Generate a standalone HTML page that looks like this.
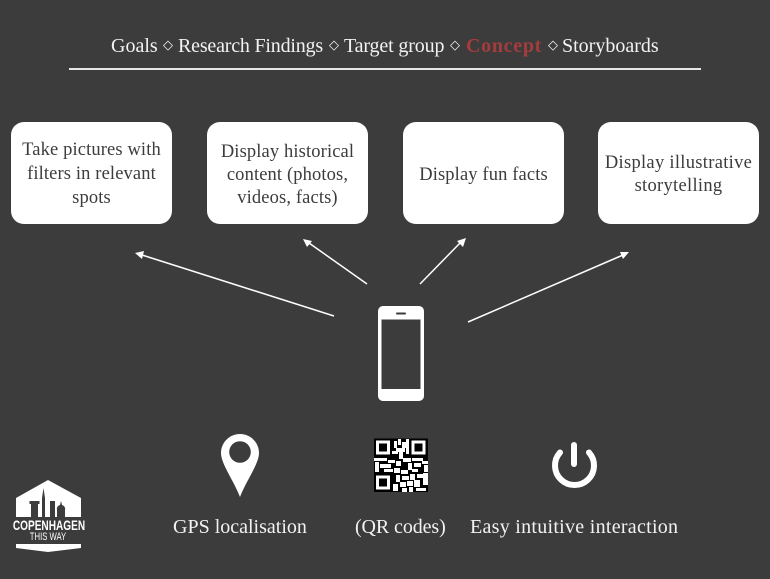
<!DOCTYPE html>
<html><head><meta charset="utf-8"><style>
html,body{margin:0;padding:0;background:#3c3c3c}
#p{position:relative;width:770px;height:579px;overflow:hidden;background:#3c3c3c;font-family:"Liberation Serif",serif;color:#f2f2f2}
.t{position:absolute;white-space:nowrap;font-size:20px;line-height:24px}
.h{position:absolute;top:34px;white-space:nowrap;font-size:20px;line-height:24px}
.d{position:absolute;top:36px;font:13px/20px "DejaVu Sans",sans-serif;color:#f2f2f2}
.b{position:absolute;top:122px;width:161px;height:102px;background:#fff;border-radius:13px;color:#3c3c3c;font-size:18.500px;line-height:24px;letter-spacing:.13px;text-align:center}
.b span{position:absolute;left:-20px;right:-20px;white-space:nowrap}
</style></head><body><div id="p">
<div class="h" style="left:111px">Goals</div><div class="d" style="left:163px">◇</div>
<div class="h" style="left:178px;letter-spacing:-.2px">Research Findings</div><div class="d" style="left:329px">◇</div>
<div class="h" style="left:344px;letter-spacing:-.15px">Target group</div><div class="d" style="left:450px">◇</div>
<div class="h" style="left:466px;font-weight:bold;letter-spacing:.7px;color:#a53c3c">Concept</div><div class="d" style="left:548px">◇</div>
<div class="h" style="left:562px">Storyboards</div>
<div style="position:absolute;left:69px;top:68px;width:632px;height:2px;background:#e6e6e6"></div>
<div class="b" style="left:11px"><span style="top:16px">Take pictures with<br>filters in relevant<br>spots</span></div>
<div class="b" style="left:207px"><span style="top:19px;line-height:23.200px">Display historical<br>content (photos,<br>videos, facts)</span></div>
<div class="b" style="left:403px"><span style="top:41px">Display fun facts</span></div>
<div class="b" style="left:598px;letter-spacing:.3px"><span style="top:30px;line-height:23.200px">Display illustrative<br>storytelling</span></div>
<svg width="770" height="579" style="position:absolute;left:0;top:0">
<g stroke="#fff" stroke-width="1.500" fill="none">
<line x1="334" y1="316" x2="142" y2="255"/>
<line x1="367" y1="284" x2="309" y2="243"/>
<line x1="420" y1="284" x2="461" y2="242"/>
<line x1="468" y1="322" x2="623" y2="255"/>
</g>
<g fill="#fff">
<polygon points="135,253 144,251 142,259"/>
<polygon points="303,239 312,241 307,247"/>
<polygon points="466,238 463,247 457,241"/>
<polygon points="629,252 623,259 620,252"/>
<rect x="378" y="306" width="46" height="95" rx="5"/>
<path d="M240 434c-10.500 0-19 8.500-19 19 0 11 13 28 19 44 6-16 19-33 19-44 0-10.500-8.500-19-19-19z"/>
</g>
<rect x="381.500" y="319.500" width="39" height="69.500" fill="#3c3c3c"/>
<rect x="396" y="312.500" width="10" height="2" rx="1" fill="#3c3c3c"/>
<circle cx="240" cy="452" r="10.800" fill="#3c3c3c"/>
<g fill="none" stroke="#fff" stroke-width="6" stroke-linecap="round">
<path d="M560 452.500a19.500 19.500 0 1 0 29 0"/>
<line x1="574" y1="445" x2="574" y2="464"/>
</g>
<rect x="374" y="438.500" width="54" height="53.500" fill="#000"/>
<g fill="none" stroke="#fff" stroke-width="3">
<rect x="377.500" y="442" width="11" height="11"/><rect x="413" y="442" width="11" height="11"/><rect x="377.500" y="477" width="11" height="11"/>
</g>
<g fill="#fff">
<rect x="394" y="441" width="3" height="7"/><rect x="398" y="439" width="3" height="6"/><rect x="402" y="442" width="4" height="6"/><rect x="406" y="439" width="3" height="15"/>
<rect x="396" y="448" width="9" height="4"/><rect x="392" y="451" width="6" height="3"/><rect x="399" y="452" width="4" height="7"/>
<rect x="374" y="458" width="13" height="3"/><rect x="375" y="462" width="4" height="10"/><rect x="380" y="464" width="11" height="4"/><rect x="384" y="469" width="9" height="3"/><rect x="388" y="460" width="7" height="3"/>
<rect x="396" y="461" width="5" height="5"/><rect x="403" y="458" width="8" height="4"/><rect x="412" y="458" width="11" height="3"/><rect x="422" y="461" width="6" height="3"/><rect x="408" y="463" width="4" height="7"/><rect x="414" y="463" width="7" height="4"/><rect x="424" y="465" width="4" height="7"/>
<rect x="394" y="468" width="6" height="5"/><rect x="401" y="470" width="7" height="4"/><rect x="412" y="469" width="6" height="3"/><rect x="396" y="475" width="4" height="7"/><rect x="402" y="476" width="7" height="4"/><rect x="410" y="474" width="5" height="6"/><rect x="417" y="474" width="6" height="4"/><rect x="423" y="473" width="5" height="12"/>
<rect x="393" y="484" width="5" height="7"/><rect x="400" y="482" width="6" height="5"/><rect x="407" y="481" width="6" height="5"/><rect x="414" y="480" width="6" height="7"/><rect x="402" y="488" width="5" height="4"/><rect x="409" y="487" width="4" height="5"/><rect x="416" y="488" width="10" height="3"/>
</g>
<path fill="#fff" d="M16 498 48 480 81 498V517H16z"/>
<g fill="#3c3c3c">
<rect x="31" y="503" width="7" height="14"/><rect x="29.500" y="501" width="10" height="3"/><path d="M42 517V498l1.500-10 1.500 10V517z"/>
<rect x="50" y="501" width="5" height="16"/><path d="M57 517v-7a4 4 0 0 1 3-5l1-4 1 4a4 4 0 0 1 3 5v7z"/>
</g>
<path fill="#fff" d="M16 544H81V548L48 552 16 548z"/>
</svg>
<div class="t" style="left:173px;top:515px;letter-spacing:0">GPS localisation</div>
<div class="t" style="left:355px;top:515px;letter-spacing:-.1px">(QR codes)</div>
<div class="t" style="left:470px;top:515px;letter-spacing:.28px">Easy intuitive interaction</div>
<div style="position:absolute;left:-11px;top:519px;width:120px;text-align:center;font:bold 14px/13px 'Liberation Sans',sans-serif;color:#fff;transform:scaleX(.72)">COPENHAGEN</div>
<div style="position:absolute;left:-12px;top:531px;width:120px;text-align:center;font:11px/12px 'Liberation Sans',sans-serif;color:#fff;transform:scaleX(.7)">THIS WAY</div>
</div></body></html>
